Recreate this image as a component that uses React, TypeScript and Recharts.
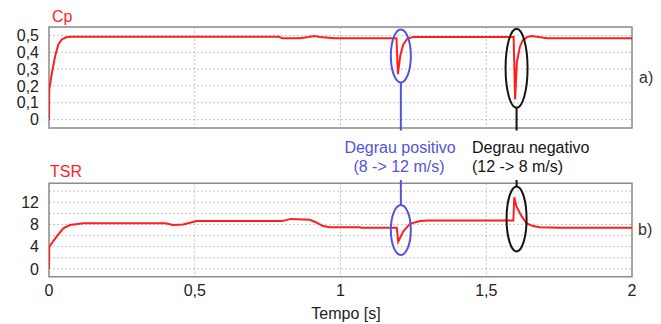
import React from 'react';
import {
  LineChart,
  Line,
  XAxis,
  YAxis,
  CartesianGrid,
  ReferenceArea,
  ReferenceDot,
  ReferenceLine,
} from 'recharts';

// ---- data ----
const xTicks = [0, 0.5, 1, 1.5, 2];
const cpTicks = [0, 0.1, 0.2, 0.3, 0.4, 0.5];
const tsrTicks = [0, 2, 4, 6, 8, 10, 12, 14];
const tsrLabelTicks = [0, 4, 8, 12];

const cpTime = [
  0, 0.001, 0.009, 0.021, 0.032, 0.044, 0.061, 0.08, 0.3, 0.5, 0.79, 0.8, 0.86, 0.89, 0.91, 0.93,
  0.98, 1.192, 1.197, 1.205, 1.215, 1.23, 1.25, 1.4, 1.594, 1.599, 1.605, 1.615, 1.625, 1.64,
  1.655, 1.68, 1.71, 2.0,
];
const cpValue = [
  0, 0.18, 0.268, 0.377, 0.446, 0.476, 0.49, 0.492, 0.492, 0.492, 0.492, 0.483, 0.483, 0.49,
  0.497, 0.49, 0.483, 0.483, 0.27, 0.38, 0.445, 0.483, 0.491, 0.491, 0.491, 0.12, 0.34, 0.43,
  0.47, 0.49, 0.496, 0.49, 0.483, 0.483,
];

const tsrTime = [
  0, 0.001, 0.026, 0.049, 0.072, 0.118, 0.4, 0.425, 0.46, 0.507, 0.8, 0.83, 0.895, 0.915, 0.94,
  0.964, 1.067, 1.07, 1.193, 1.198, 1.215, 1.238, 1.273, 1.3, 1.593, 1.596, 1.604, 1.622, 1.639,
  1.661, 1.684, 1.75, 2.0,
];
const tsrValue = [
  0, 4.0, 5.8, 7.3, 7.9, 8.2, 8.2, 7.9, 8.0, 8.6, 8.6, 9.0, 8.85, 8.4, 7.7, 7.5, 7.5, 7.4, 7.4,
  4.9, 6.7, 8.1, 8.6, 8.7, 8.7, 12.9, 11.2, 9.4, 8.2, 7.7, 7.5, 7.4, 7.4,
];

// annotation anchors (data coordinates)
const stepPosTime = 1.207;
const stepNegTime = 1.604;

const cpData = cpTime.map((t, i) => ({ t, v: cpValue[i] }));
const tsrData = tsrTime.map((t, i) => ({ t, v: tsrValue[i] }));

const FONT = '"Liberation Sans", Arial, Helvetica, sans-serif';
const RED = '#ff1e1e';
const BLUE = '#5353de';
const BLACK = '#141414';
const GRID = '#c4c4c4';
const FRAME = '#8e8e8e';
const TICK_FS = 16;
const TXT_FS = 16;

const comma = (v: number) => String(v).replace('.', ',');

const ellipse = (rx: number, ry: number, color: string) => (p: any) => (
  <ellipse cx={p.cx} cy={p.cy} rx={rx} ry={ry} fill="none" stroke={color} strokeWidth={2} />
);

const TsrTick = (p: any) => {
  const v = p.payload.value;
  if (!tsrLabelTicks.includes(v)) return <g />;
  return (
    <text x={p.x} y={p.y} dy="0.355em" textAnchor="end" fontSize={TICK_FS} fill="#222" fontFamily={FONT}>
      {comma(v)}
    </text>
  );
};

export default function App() {
  return (
    <div style={{ position: 'absolute', left: 0, top: 0, width: 661, height: 324, background: '#fff', fontFamily: FONT }}>
      <div style={{ position: 'absolute', left: 0, top: 0 }}>
        <LineChart width={661} height={140} data={cpData} margin={{ top: 27, right: 29, left: 0, bottom: 12 }}>
          <CartesianGrid stroke={GRID} strokeDasharray="2 2" />
          <XAxis type="number" dataKey="t" domain={[0, 2]} ticks={xTicks} hide allowDataOverflow interval={0} />
          <YAxis
            type="number"
            domain={[-0.05, 0.55]}
            ticks={cpTicks}
            interval={0}
            width={49}
            axisLine={false}
            tickLine={false}
            tickSize={6}
            tickMargin={4}
            tickFormatter={comma}
            tick={{ fontSize: TICK_FS, fill: '#222', fontFamily: FONT }}
            allowDataOverflow
          />
          <ReferenceArea x1={0} x2={2} y1={-0.05} y2={0.55} fill="none" stroke={FRAME} strokeWidth={1.5} />
          <Line type="linear" dataKey="v" stroke={RED} strokeWidth={2} dot={false} isAnimationActive={false} />
          <ReferenceDot x={stepPosTime} y={0.378} shape={ellipse(10, 26.5, BLUE)} />
          <ReferenceDot x={stepNegTime} y={0.305} shape={ellipse(11, 39.5, BLACK)} />
          <ReferenceLine
            segment={[{ x: stepPosTime, y: 0.22 }, { x: stepPosTime, y: -0.065 }]}
            stroke={BLUE}
            strokeWidth={2}
            ifOverflow="visible"
          />
          <ReferenceLine
            segment={[{ x: stepNegTime, y: 0.07 }, { x: stepNegTime, y: -0.065 }]}
            stroke={BLACK}
            strokeWidth={2}
            ifOverflow="visible"
          />
        </LineChart>
      </div>
      <div style={{ position: 'absolute', left: 0, top: 140 }}>
        <LineChart width={661} height={184} data={tsrData} margin={{ top: 43.3, right: 29, left: 0, bottom: 17.3 }}>
          <CartesianGrid stroke={GRID} strokeDasharray="2 2" />
          <XAxis
            type="number"
            dataKey="t"
            domain={[0, 2]}
            ticks={xTicks}
            interval={0}
            height={30}
            axisLine={false}
            tickLine={false}
            tickSize={6}
            tickMargin={2}
            tickFormatter={comma}
            tick={{ fontSize: TICK_FS, fill: '#222', fontFamily: FONT }}
            allowDataOverflow
          />
          <YAxis
            type="number"
            domain={[-1.4, 15.4]}
            ticks={tsrTicks}
            interval={0}
            width={49}
            axisLine={false}
            tickLine={false}
            tickSize={6}
            tickMargin={4}
            tick={TsrTick}
            allowDataOverflow
          />
          <ReferenceArea x1={0} x2={2} y1={-1.4} y2={15.4} fill="none" stroke={FRAME} strokeWidth={1.5} />
          <Line type="linear" dataKey="v" stroke={RED} strokeWidth={2} dot={false} isAnimationActive={false} />
          <ReferenceDot x={stepPosTime} y={7.0} shape={ellipse(10, 25, BLUE)} />
          <ReferenceDot x={stepNegTime} y={9.0} shape={ellipse(10, 32.5, BLACK)} />
          <ReferenceLine
            segment={[{ x: stepPosTime, y: 16.0 }, { x: stepPosTime, y: 11.5 }]}
            stroke={BLUE}
            strokeWidth={2}
            ifOverflow="visible"
          />
          <ReferenceLine
            segment={[{ x: stepNegTime, y: 16.0 }, { x: stepNegTime, y: 14.8 }]}
            stroke={BLACK}
            strokeWidth={2}
            ifOverflow="visible"
          />
        </LineChart>
      </div>
      <svg
        width={661}
        height={324}
        style={{ position: 'absolute', left: 0, top: 0, pointerEvents: 'none' }}
        fontFamily={FONT}
      >
        <text x={52} y={22} fontSize={TXT_FS} fill={RED}>Cp</text>
        <text x={50} y={177} fontSize={TXT_FS} fill={RED}>TSR</text>
        <text x={639} y={83} fontSize={TXT_FS} fill="#333">a)</text>
        <text x={638} y={235} fontSize={TXT_FS} fill="#333">b)</text>
        <text x={400} y={153} fontSize={TXT_FS} fill={BLUE} textAnchor="middle">Degrau positivo</text>
        <text x={399} y={171.5} fontSize={TXT_FS} fill={BLUE} textAnchor="middle">(8 -&gt; 12 m/s)</text>
        <text x={472} y={153} fontSize={TXT_FS} fill={BLACK}>Degrau negativo</text>
        <text x={472} y={171.5} fontSize={TXT_FS} fill={BLACK}>(12 -&gt; 8 m/s)</text>
        <text x={346} y={319} fontSize={TXT_FS} fill="#222" textAnchor="middle">Tempo [s]</text>
      </svg>
    </div>
  );
}
